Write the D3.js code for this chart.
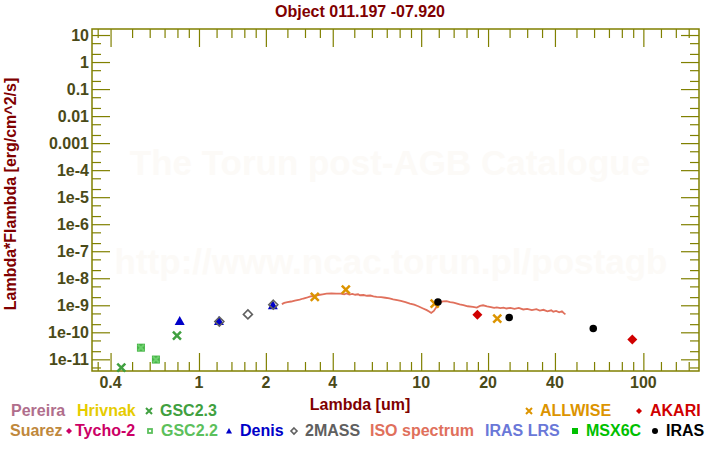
<!DOCTYPE html>
<html><head><meta charset="utf-8">
<script src="https://cdn.jsdelivr.net/npm/d3@7"></script>
<style>body{margin:0;background:#fff}svg{display:block}text{font-family:"Liberation Sans",Arial,sans-serif;font-weight:bold}</style>
</head><body><svg id="c" width="720" height="450"></svg>
<script>
// ---- data ----
const title = "Object 011.197 -07.920";
const xLabel = "Lambda [um]";
const yLabel = "Lambda*Flambda [erg/cm^2/s]";
const xMajor = [0.4, 1, 2, 4, 10, 20, 40, 100];
const xTickLabels = ["0.4", "1", "2", "4", "10", "20", "40", "100"];
const xMinor = [0.35,0.5,0.6,0.7,0.8,0.9,1.2,1.4,1.6,1.8,2.5,3,3.5,5,6,7,8,9,12,14,16,18,25,30,35,50,60,70,80,90,120,140,160];
const yMajor = [1e-11,1e-10,1e-9,1e-8,1e-7,1e-6,1e-5,1e-4,1e-3,1e-2,0.1,1,10];
const yTickLabels = ["1e-11","1e-10","1e-9","1e-8","1e-7","1e-6","1e-5","1e-4","0.001","0.01","0.1","1","10"];
const yMinor = [5e-12,2e-11,5e-11,2e-10,5e-10,2e-9,5e-9,2e-8,5e-8,2e-7,5e-7,2e-6,5e-6,2e-5,5e-5,2e-4,5e-4,2e-3,5e-3,0.02,0.05,0.2,0.5,2,5];

const gsc23 = [[0.447, 4.9e-12], [0.796, 7.6e-11]];
const gsc22 = [[0.548, 2.7e-11], [0.64, 9.8e-12]];
const denis = [[0.819, 2.6e-10], [1.23, 2.6e-10], [2.15, 1.0e-9]];
const twomass = [[1.235, 2.5e-10], [1.66, 4.6e-10], [2.16, 1.05e-9]];
const iso = [[2.36,1.10e-9],[2.42,1.22e-9],[2.50,1.30e-9],[2.60,1.38e-9],[2.70,1.50e-9],[2.84,1.62e-9],[2.95,1.78e-9],[3.05,1.90e-9],[3.15,2.10e-9],[3.30,2.25e-9],[3.45,2.40e-9],[3.60,2.55e-9],[3.75,2.70e-9],[3.95,2.75e-9],[4.15,2.72e-9],[4.35,2.70e-9],[4.50,2.55e-9],[4.61,2.75e-9],[4.75,2.50e-9],[4.90,2.65e-9],[5.05,2.45e-9],[5.20,2.55e-9],[5.30,2.35e-9],[5.50,2.40e-9],[5.70,2.25e-9],[5.90,2.30e-9],[6.10,2.15e-9],[6.30,2.05e-9],[6.60,2.00e-9],[6.90,1.90e-9],[7.20,1.80e-9],[7.48,1.65e-9],[7.80,1.55e-9],[8.10,1.45e-9],[8.50,1.30e-9],[8.90,1.16e-9],[9.30,1.05e-9],[9.70,0.92e-9],[10.2,0.76e-9],[10.6,0.66e-9],[10.9,0.58e-9],[11.1,0.52e-9],[11.4,0.62e-9],[11.7,0.85e-9],[12.1,1.25e-9],[12.5,1.40e-9],[13.0,1.42e-9],[13.5,1.30e-9],[14.0,1.25e-9],[14.9,1.08e-9],[15.5,1.02e-9],[16.2,0.92e-9],[17.1,0.88e-9],[17.8,0.82e-9],[18.4,0.95e-9],[19.0,1.00e-9],[19.8,0.92e-9],[20.6,0.86e-9],[21.3,0.80e-9],[21.9,0.84e-9],[22.7,0.78e-9],[23.5,0.82e-9],[24.2,0.76e-9],[25.2,0.80e-9],[26.3,0.74e-9],[27.5,0.80e-9],[28.8,0.70e-9],[30.0,0.74e-9],[31.5,0.66e-9],[33.0,0.72e-9],[34.2,0.64e-9],[35.5,0.68e-9],[37.0,0.60e-9],[38.5,0.65e-9],[39.3,0.58e-9],[40.5,0.62e-9],[41.8,0.55e-9],[43.0,0.60e-9],[44.0,0.50e-9],[44.6,0.46e-9]];
const allwise = [[3.32, 2.04e-9], [4.58, 3.81e-9], [11.5, 1.16e-9], [22.0, 3.2e-10]];
const akari = [[17.9, 4.5e-10], [89.2, 5.4e-11]];
const iras = [[11.9, 1.33e-9], [24.9, 3.5e-10], [59.5, 1.37e-10]];

const legendRow1 = ["Pereira", "Hrivnak", "GSC2.3", "ALLWISE", "AKARI"];
const legendRow2 = ["Suarez", "Tycho-2", "GSC2.2", "Denis", "2MASS", "ISO spectrum", "IRAS LRS", "MSX6C", "IRAS"];
const watermark1 = "The Torun post-AGB Catalogue";
const watermark2 = "http://www.ncac.torun.pl/postagb";

// ---- style / layout ----
const col = {Pereira:"#b06e8c", Hrivnak:"#e6cc00", "GSC2.3":"#40a040", ALLWISE:"#dc9400", AKARI:"#d00000",
  Suarez:"#c0883c", "Tycho-2":"#cc0066", "GSC2.2":"#5cc05c", Denis:"#0000c8", "2MASS":"#606060",
  "ISO spectrum":"#e0705c", "IRAS LRS":"#6a78d8", MSX6C:"#00c000", IRAS:"#000000"};
const sym = {"GSC2.3":"x", ALLWISE:"x", AKARI:"dfill", "Tycho-2":"dfill", "GSC2.2":"sq", Denis:"tri", "2MASS":"dia", MSX6C:"sqfill", IRAS:"dot"};
const row1X = {Pereira:11, Hrivnak:77, "GSC2.3":146, ALLWISE:526, AKARI:636};
const row2X = {Suarez:10, "Tycho-2":66, "GSC2.2":147, Denis:226, "2MASS":291, "ISO spectrum":370, "IRAS LRS":485, MSX6C:572, IRAS:652};

const L=92, R=699, T=29, B=371;
const olive="#808000", tickTxt="#4a4a18", dark="#800000";
const svg = d3.select("#c");
const x = d3.scaleLog().domain([0.33,178]).range([L,R]);
const y = d3.scaleLog().domain([3.7e-12,16.7]).range([B,T]);

// watermarks
svg.append("text").attr("x",390).attr("y",175).attr("text-anchor","middle").attr("font-size",35).attr("fill","#fcfaf7").text(watermark1);
svg.append("text").attr("x",391).attr("y",274).attr("text-anchor","middle").attr("font-size",35).attr("fill","#fcfaf7").text(watermark2);

function ax(gen, tr, vals, size){
  const g = svg.append("g").attr("transform",tr).call(gen.tickValues(vals).tickSize(size).tickSizeOuter(0).tickFormat(""));
  g.select(".domain").remove();
  g.selectAll("line").attr("stroke",olive).attr("stroke-width",1.2);
  return g;
}
ax(d3.axisBottom(x),`translate(0,${B})`,xMajor,-18);
ax(d3.axisBottom(x),`translate(0,${B})`,xMinor,-9);
ax(d3.axisTop(x),`translate(0,${T})`,xMajor,-18);
ax(d3.axisTop(x),`translate(0,${T})`,xMinor,-9);
ax(d3.axisLeft(y),`translate(${L},0)`,yMajor,-18);
ax(d3.axisLeft(y),`translate(${L},0)`,yMinor,-9);
ax(d3.axisRight(y),`translate(${R},0)`,yMajor,-18);
ax(d3.axisRight(y),`translate(${R},0)`,yMinor,-9);
svg.append("g").selectAll("text").data(xMajor).join("text")
  .attr("x",d=>x(d)).attr("y",388).attr("text-anchor","middle").attr("font-size",16).attr("fill",tickTxt)
  .text((d,i)=>xTickLabels[i]);
svg.append("g").selectAll("text").data(yMajor).join("text")
  .attr("x",89).attr("y",d=>y(d)+6).attr("text-anchor","end").attr("font-size",16).attr("fill",tickTxt)
  .text((d,i)=>yTickLabels[i]);
svg.append("rect").attr("x",L).attr("y",T).attr("width",R-L).attr("height",B-T).attr("fill","none").attr("stroke",olive).attr("stroke-width",1.5);

svg.append("text").attr("x",360).attr("y",17).attr("text-anchor","middle").attr("font-size",16).attr("fill",dark).text(title);
svg.append("text").attr("x",360).attr("y",410).attr("text-anchor","middle").attr("font-size",16).attr("fill",dark).text(xLabel);
svg.append("text").attr("transform","translate(16,194) rotate(-90)").attr("text-anchor","middle").attr("font-size",16).attr("fill",dark).text(yLabel);

function marker(g, type, cx, cy, s, c){
  const h=s/2;
  if(type==="x"){
    g.append("path").attr("d",`M${cx-h},${cy-h}L${cx+h},${cy+h}M${cx-h},${cy+h}L${cx+h},${cy-h}`).attr("stroke",c).attr("stroke-width",s>6?2.5:2).attr("fill","none");
  } else if(type==="dfill"){
    g.append("path").attr("d",`M${cx},${cy-h}L${cx+h},${cy}L${cx},${cy+h}L${cx-h},${cy}Z`).attr("fill",c);
  } else if(type==="dia"){
    g.append("path").attr("d",`M${cx},${cy-h}L${cx+h},${cy}L${cx},${cy+h}L${cx-h},${cy}Z`).attr("fill","none").attr("stroke",c).attr("stroke-width",1.6);
  } else if(type==="sq"){
    g.append("rect").attr("x",cx-h+1).attr("y",cy-h+1).attr("width",s-2).attr("height",s-2).attr("fill","none").attr("stroke",c).attr("stroke-width",1.8);
  } else if(type==="sqfill"){
    g.append("rect").attr("x",cx-h).attr("y",cy-h).attr("width",s).attr("height",s).attr("fill",c);
  } else if(type==="tri"){
    g.append("path").attr("d",`M${cx},${cy-h}L${cx+h},${cy+h*0.8}L${cx-h},${cy+h*0.8}Z`).attr("fill",c);
  } else if(type==="dot"){
    g.append("circle").attr("cx",cx).attr("cy",cy).attr("r",h).attr("fill",c);
  }
}
const pg = svg.append("g");
gsc22.forEach(d=>{
  pg.append("rect").attr("x",x(d[0])-4).attr("y",y(d[1])-4).attr("width",8).attr("height",8).attr("fill","#48b448");
  marker(pg,"x",x(d[0]),y(d[1]),6,"#6cd06c");
});
gsc23.forEach(d=>marker(pg,"x",x(d[0]),y(d[1]),8,col["GSC2.3"]));
denis.forEach(d=>marker(pg,"tri",x(d[0]),y(d[1]),10,col.Denis));
twomass.forEach(d=>marker(pg,"dia",x(d[0]),y(d[1]),9,col["2MASS"]));
pg.append("path").datum(iso).attr("fill","none").attr("stroke",col["ISO spectrum"]).attr("stroke-width",1.8)
  .attr("d",d3.line().x(d=>x(d[0])).y(d=>y(d[1])));
allwise.forEach(d=>marker(pg,"x",x(d[0]),y(d[1]),8,col.ALLWISE));
akari.forEach(d=>marker(pg,"dfill",x(d[0]),y(d[1]),10,col.AKARI));
iras.forEach(d=>marker(pg,"dot",x(d[0]),y(d[1]),7.5,col.IRAS));

function legendRow(names, xs, base){
  names.forEach(n=>{
    let tx = xs[n];
    if(sym[n]){
      marker(svg, sym[n], tx+3, base-5, 6, col[n]);
      tx += (n==="Tycho-2")?9:14;
    }
    svg.append("text").attr("x",tx).attr("y",base).attr("font-size",16).attr("fill",col[n]).text(n);
  });
}
legendRow(legendRow1,row1X,416);
legendRow(legendRow2,row2X,436);
</script></body></html>
